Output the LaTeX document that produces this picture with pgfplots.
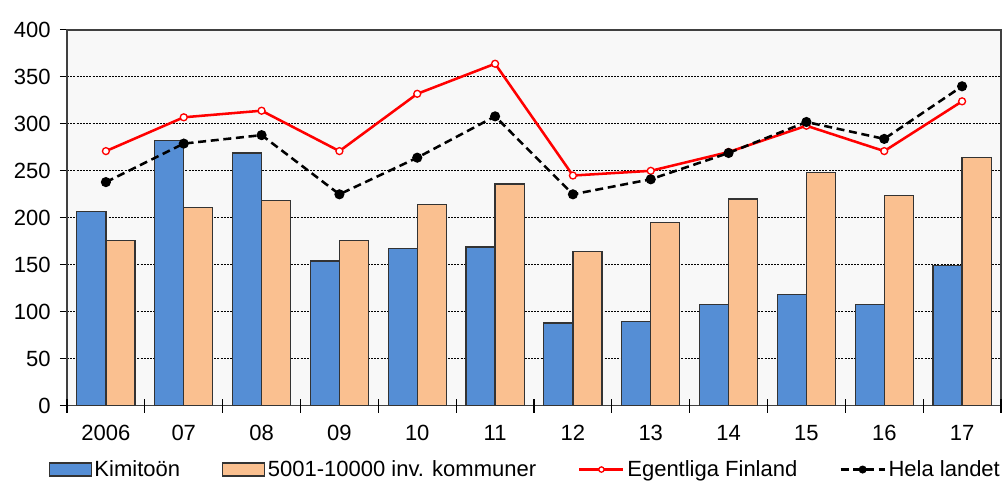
\documentclass[border=0pt]{standalone}
\usepackage{pgfplots}
\pgfplotsset{compat=1.18}
\usepackage{fontspec}
\setmainfont{Liberation Sans}
\definecolor{kblue}{HTML}{558ED5}
\definecolor{korange}{HTML}{FAC090}
\definecolor{bgc}{HTML}{F8F8F8}
\definecolor{edge}{HTML}{333333}
\pgfplotsset{
  barleg/.style={legend image code/.code={\draw[##1] (0pt,-4.9pt) rectangle (31.5pt,4.9pt);}},
  lineleg/.style={legend image code/.code={\draw[##1, mark size=2pt, mark repeat=2, mark phase=2] plot coordinates {(0pt,0pt)(16.5pt,0pt)(33pt,0pt)};}},
}
\begin{document}
\begin{tikzpicture}
\begin{axis}[name=ax, scale only axis, width=700.5pt, height=281.8pt,
  xmin=-0.5, xmax=11.5, ymin=0, ymax=400,
  axis background/.style={fill=bgc},
  axis line style={draw=black!75, line width=0.9pt},
  ytick={0,50,...,400},
  xtick={-0.5,0.5,...,11.5},
  xticklabels={2006,07,08,09,10,11,12,13,14,15,16,17},
  x tick label as interval,
  extra x ticks={-0.5,0.5,...,11.5},
  extra x tick labels={},
  extra x tick style={xtick align=inside},
  tick pos=left,
  tick align=outside,
  major tick length=5.25pt,
  tick style={black, line width=0.8pt},
  ymajorgrids,
  grid style={black, line width=0.6pt, dash pattern=on 1.5pt off 0.9pt},
  /pgf/number format/assume math mode=true,
  tick label style={font=\fontsize{16.5}{19}\selectfont},
  yticklabel style={xshift=-3.5pt},
  xticklabel style={yshift=-6pt},
  legend columns=4,
  legend style={draw=none, fill=none, at={(0.491,-0.170)}, anchor=center,
    font=\fontsize{16.5}{19}\selectfont,
    /tikz/every even column/.append style={column sep=29.5pt}},
  legend cell align=left,
]
\addplot[ybar, bar width=0.373, bar shift=-0.1865, fill=kblue, draw=edge, line width=0.9pt, barleg]
  coordinates {(0,207)(1,282)(2,269)(3,154)(4,167)(5,169)(6,88)(7,90)(8,108)(9,118)(10,108)(11,149)};
\addlegendentry{Kimitoön}
\addplot[ybar, bar width=0.373, bar shift=0.1865, fill=korange, draw=edge, line width=0.9pt, barleg]
  coordinates {(0,176)(1,211)(2,218)(3,176)(4,214)(5,236)(6,164)(7,195)(8,220)(9,248)(10,224)(11,264)};
\addlegendentry{5001-10000 inv. kommuner}
\addplot[red, line width=1.9pt, mark=*, mark size=2.6pt, mark options={fill=white, draw=red, line width=1pt}, lineleg]
  coordinates {(0,271)(1,307)(2,314)(3,271)(4,332)(5,364)(6,245)(7,250)(8,270)(9,298)(10,271)(11,324)};
\addlegendentry{Egentliga Finland}
\addplot[black, line width=1.9pt, dash pattern=on 6pt off 3.5pt, mark=*, mark size=2.8pt, mark options={solid}, lineleg]
  coordinates {(0,238)(1,279)(2,288)(3,225)(4,264)(5,308)(6,225)(7,241)(8,269)(9,302)(10,284)(11,340)};
\addlegendentry{Hela landet}
\end{axis}
\pgfresetboundingbox
\path[use as bounding box] ([shift={(-50.25pt,-62.5pt)}]ax.south west) rectangle ++(756pt,366.75pt);
\end{tikzpicture}
\end{document}
